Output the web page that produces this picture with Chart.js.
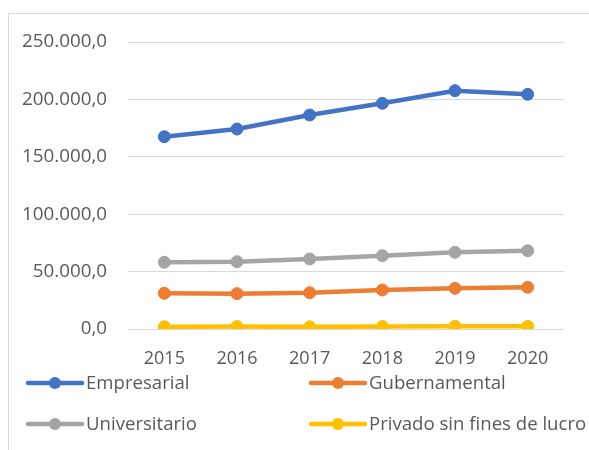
<!DOCTYPE html>
<html lang="es">
<head>
  <meta charset="UTF-8">
  <title>Gasto por sector</title>
  <script src="https://cdn.jsdelivr.net/npm/chart.js"></script>
  <style>
    body {
      margin: 0;
      background: #ffffff;
      overflow: hidden;
    }
    #marco {
      position: absolute;
      left: 8px;
      top: 13px;
      width: 620px;
      height: 480px;
      border: 1px solid #d9d9d9;
    }
    #grafico {
      position: absolute;
      left: 0;
      top: 0;
    }
  </style>
</head>
<body>
  <div id="marco"></div>
  <canvas id="grafico" width="589" height="450"></canvas>

  <script>
    const anios = ['2015', '2016', '2017', '2018', '2019', '2020'];
    const empresarial = [167500, 174200, 186400, 196600, 207600, 204400];
    const gubernamental = [31100, 30800, 31600, 34000, 35400, 36300];
    const universitario = [58100, 58600, 61000, 63900, 66800, 68200];
    const privado = [2000, 2100, 1900, 2100, 2300, 2300];

    const fuente = 'Open Sans, sans-serif';
    const gris = '#595959';

    function formato(v) {
      const entero = Math.round(v).toString().replace(/\B(?=(\d{3})+(?!\d))/g, '.');
      return entero + ',0';
    }

    function serie(label, data, color) {
      return {
        label,
        data,
        borderColor: color,
        backgroundColor: color,
        borderWidth: 4.5,
        pointRadius: 6,
        pointHoverRadius: 6,
        pointBorderWidth: 1,
        tension: 0
      };
    }

    // leyenda a dos columnas, linea con punto al medio
    const leyenda = {
      id: 'leyenda',
      afterDraw(chart) {
        const ctx = chart.ctx;
        const cols = [28, 311];
        const filas = [383, 424];
        chart.data.datasets.forEach((ds, i) => {
          const x = cols[i % 2];
          const y = filas[Math.floor(i / 2)];
          ctx.save();
          ctx.strokeStyle = ds.borderColor;
          ctx.lineWidth = 4.5;
          ctx.lineCap = 'round';
          ctx.beginPath();
          ctx.moveTo(x, y);
          ctx.lineTo(x + 54, y);
          ctx.stroke();
          ctx.fillStyle = ds.borderColor;
          ctx.beginPath();
          ctx.arc(x + 27, y, 6, 0, Math.PI * 2);
          ctx.fill();
          ctx.fillStyle = gris;
          ctx.font = '18.6px ' + fuente;
          ctx.textBaseline = 'middle';
          ctx.fillText(ds.label, x + 58, y + 1);
          ctx.restore();
        });
      }
    };

    new Chart(document.getElementById('grafico'), {
      type: 'line',
      data: {
        labels: anios,
        datasets: [
          serie('Empresarial', empresarial, '#4472C4'),
          serie('Gubernamental', gubernamental, '#ED7D31'),
          serie('Universitario', universitario, '#A5A5A5'),
          serie('Privado sin fines de lucro', privado, '#FFC000')
        ]
      },
      options: {
        responsive: false,
        animation: false,
        layout: {
          padding: { left: 0, top: 42, right: 25, bottom: 81 }
        },
        plugins: {
          legend: { display: false },
          tooltip: { enabled: false }
        },
        scales: {
          x: {
            offset: true,
            grid: { display: false },
            border: { display: false },
            ticks: {
              color: gris,
              font: { family: fuente, size: 18 },
              padding: 11
            },
            afterFit(scale) { scale.height = 40; }
          },
          y: {
            min: 0,
            max: 250000,
            grid: { color: '#d9d9d9', lineWidth: 1, drawTicks: false },
            border: { display: false },
            ticks: {
              stepSize: 50000,
              color: gris,
              font: { family: fuente, size: 18.8 },
              padding: 21,
              callback: v => formato(v)
            },
            afterFit(scale) { scale.width = 128; }
          }
        }
      },
      plugins: [leyenda]
    });
  </script>
</body>
</html>
